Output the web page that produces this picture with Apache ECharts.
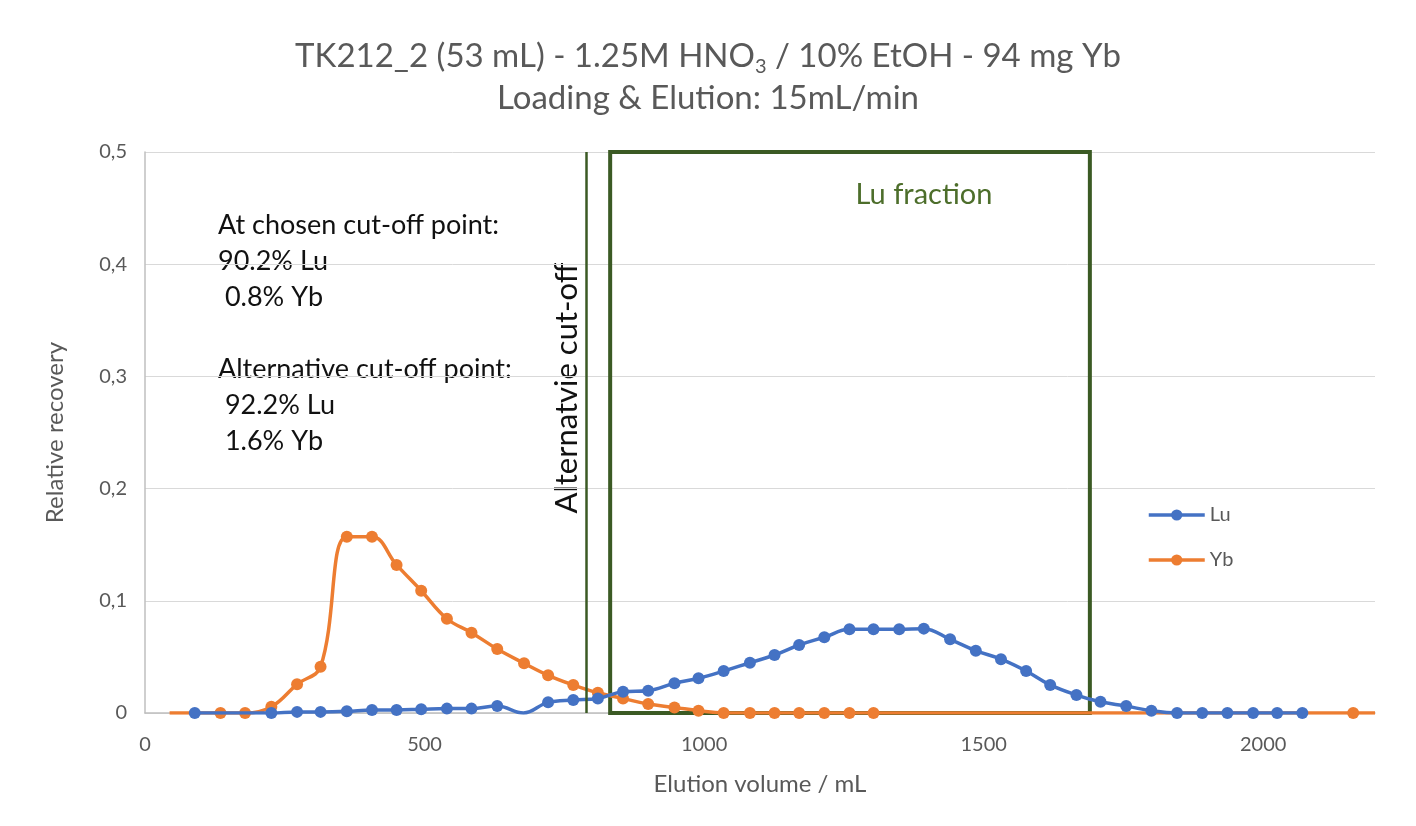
<!DOCTYPE html>
<html>
<head>
<meta charset="utf-8">
<title>TK212_2 elution profile</title>
<script src="https://cdn.jsdelivr.net/npm/echarts@6/dist/echarts.min.js"></script>
<style>
  html, body { margin: 0; padding: 0; background: #ffffff; }
  #chart { width: 1416px; height: 826px; }
</style>
</head>
<body>
<div id="chart"></div>
<script>
// Elution volume (mL) and relative recovery for each collected fraction
const luVolume = [89, 226, 272, 314, 361, 406, 450, 494, 540, 584, 630, 677, 721, 766, 810, 855, 900, 947, 990, 1035, 1082, 1126, 1170, 1215, 1260, 1303, 1349, 1393, 1440, 1486, 1531, 1576, 1619, 1666, 1709, 1755, 1800, 1846, 1891, 1936, 1982, 2025, 2070];
const luRecovery = [0, 0, 0.001, 0.001, 0.0015, 0.0027, 0.0027, 0.0033, 0.0039, 0.0039, 0.0062, 0, 0.0095, 0.0116, 0.013, 0.019, 0.0199, 0.0265, 0.031, 0.0374, 0.0448, 0.0517, 0.0606, 0.0675, 0.0746, 0.0746, 0.0746, 0.0752, 0.0657, 0.0555, 0.048, 0.0374, 0.025, 0.016, 0.010, 0.0062, 0.002, 0, 0, 0, 0, 0, 0];
const ybVolume = [44, 135, 179, 226, 272, 314, 361, 406, 450, 494, 540, 584, 630, 678, 721, 766, 810, 855, 900, 947, 990, 1035, 1082, 1126, 1170, 1215, 1260, 1303, 2161, 2200];
const ybRecovery = [0, 0, 0, 0.0056, 0.0256, 0.0413, 0.157, 0.157, 0.132, 0.109, 0.084, 0.0716, 0.057, 0.0443, 0.0336, 0.025, 0.018, 0.013, 0.008, 0.005, 0.002, 0, 0, 0, 0, 0, 0, 0, 0, 0];
// Rows without a plotted marker (volumes)
const luNoMarker = [677];
const ybNoMarker = [44, 2200];

// Fraction boundaries (mL)
const altCutoff = 790;
const luFraction = [832, 1690];

// Axis ticks
const xTicks = { min: 0, max: 2200, step: 500 };
const yTicks = { min: 0, max: 0.5, step: 0.1 };

const titleLine1 = 'TK212_2 (53 mL) - 1.25M HNO';
const titleSub = '3';
const titleRest = ' / 10% EtOH - 94 mg Yb';
const titleLine2 = 'Loading & Elution: 15mL/min';
const noteLines = ['At chosen cut-off point:', '90.2% Lu', ' 0.8% Yb', '', 'Alternative cut-off point:', ' 92.2% Lu', ' 1.6% Yb'];

const FONT = 'Lato, "Open Sans", sans-serif';
const GREEN = '#3b5a24';
const GREY = '#595959';

function pairs(xs, ys) { return xs.map((x, i) => [x, ys[i]]); }
function markerSize(hidden) { return (v) => (hidden.indexOf(v[0]) >= 0 ? 0 : 12); }

const chart = echarts.init(document.getElementById('chart'), null, { renderer: 'canvas' });

chart.setOption({
  backgroundColor: '#ffffff',
  animation: false,
  title: {
    left: 'center',
    top: 30,
    text: '{t|' + titleLine1 + '}{s|' + titleSub + '}{t|' + titleRest + '}\n{t|' + titleLine2 + '}',
    textStyle: {
      fontFamily: FONT,
      fontWeight: 'normal',
      lineHeight: 42,
      rich: {
        t: { fontSize: 33, color: GREY, fontFamily: FONT, lineHeight: 42 },
        s: { fontSize: 20, color: GREY, fontFamily: FONT, verticalAlign: 'bottom', padding: [16, 0, 0, 0], lineHeight: 42 }
      }
    }
  },
  legend: {
    orient: 'vertical',
    left: 1142,
    top: 500,
    itemWidth: 56,
    itemHeight: 14,
    itemGap: 25,
    data: ['Lu', 'Yb'],
    lineStyle: { width: 3.5 },
    textStyle: { fontFamily: FONT, fontSize: 20, color: GREY }
  },
  grid: { left: 145, right: 41, top: 152, bottom: 113 },
  xAxis: {
    type: 'value',
    min: xTicks.min,
    max: xTicks.max,
    interval: xTicks.step,
    name: 'Elution volume / mL',
    nameLocation: 'middle',
    nameGap: 59,
    nameTextStyle: { fontFamily: FONT, fontSize: 24, color: GREY },
    axisLine: { show: true, lineStyle: { color: '#bfbfbf', width: 1.5 } },
    axisTick: { show: false },
    splitLine: { show: false },
    axisLabel: {
      showMaxLabel: false, margin: 22, fontFamily: FONT, fontSize: 20, color: GREY,
      formatter: (v) => String(v)
    }
  },
  yAxis: {
    type: 'value',
    min: yTicks.min,
    max: yTicks.max,
    interval: yTicks.step,
    name: 'Relative recovery',
    nameLocation: 'middle',
    nameGap: 78,
    nameTextStyle: { fontFamily: FONT, fontSize: 24, color: GREY },
    axisLine: { show: true, lineStyle: { color: '#bfbfbf', width: 1.5 } },
    axisTick: { show: false },
    splitLine: { show: true, lineStyle: { color: '#d9d9d9', width: 1 } },
    axisLabel: {
      margin: 18,
      fontFamily: FONT, fontSize: 20, color: GREY,
      formatter: (v) => String(Math.round(v * 10) / 10).replace('.', ',')
    }
  },
  series: [
    {
      name: 'Lu',
      type: 'line',
      smooth: 0.4,
      color: '#4472c4',
      symbol: 'circle',
      symbolSize: markerSize(luNoMarker),
      lineStyle: { width: 3.5 },
      data: pairs(luVolume, luRecovery),
      z: 3,
      markArea: {
        silent: true,
        itemStyle: { color: 'rgba(0,0,0,0)', borderColor: GREEN, borderWidth: 4 },
        label: { show: false },
        data: [[{ coord: [luFraction[0], yTicks.min] }, { coord: [luFraction[1], yTicks.max] }]]
      },
      markLine: {
        silent: true,
        symbol: ['none', 'none'],
        label: { show: false },
        lineStyle: { color: GREEN, width: 2.5, type: 'solid' },
        data: [{ xAxis: altCutoff }]
      }
    },
    {
      name: 'Yb',
      type: 'line',
      smooth: 0.4,
      color: '#ed7d31',
      symbol: 'circle',
      symbolSize: markerSize(ybNoMarker),
      lineStyle: { width: 3.5 },
      data: pairs(ybVolume, ybRecovery),
      z: 2
    }
  ],
  graphic: [
    {
      type: 'text',
      left: 218,
      top: 207,
      style: {
        text: noteLines.join('\n'),
        font: '27px ' + FONT,
        fill: '#111111',
        lineHeight: 36
      }
    },
    {
      type: 'text',
      x: 924,
      y: 195,
      style: {
        text: 'Lu fraction',
        font: '29px ' + FONT,
        fill: '#4d6e2b',
        align: 'center',
        verticalAlign: 'middle'
      }
    },
    {
      type: 'text',
      x: 567,
      y: 388,
      rotation: Math.PI / 2,
      style: {
        text: 'Alternatvie cut-off',
        font: '31px ' + FONT,
        fill: '#111111',
        align: 'center',
        verticalAlign: 'middle'
      }
    }
  ]
});
</script>
</body>
</html>
